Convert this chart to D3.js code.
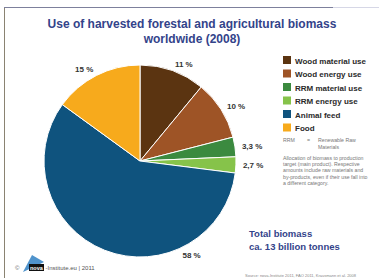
<!DOCTYPE html>
<html>
<head>
<meta charset="utf-8">
<script src="https://d3js.org/d3.v7.min.js"></script>
<style>
  body { margin: 0; background: #fff; }
  svg text { font-family: "Liberation Sans", Arial, sans-serif; }
</style>
</head>
<body>
<svg id="chart" width="379" height="278"></svg>
<script>
// data
var categories = ["Wood material use", "Wood energy use", "RRM material use", "RRM energy use", "Animal feed", "Food"];
var shares = [11, 10, 3.3, 2.7, 58, 15];
var shareLabels = ["11 %", "10 %", "3,3 %", "2,7 %", "58 %", "15 %"];
var colors = ["#5b3411", "#9e5426", "#3b8a3f", "#86c34a", "#0f537e", "#f7aa1c"];
var titleLines = ["Use of harvested forestal and agricultural biomass", "worldwide (2008)"];
var totalLines = ["Total biomass", "ca. 13 billion tonnes"];
var noteLines = ["Allocation of biomass to production", "target (main product). Respective",
  "amounts include raw materials and", "by-products, even if their use fall into", "a different category."];

var svg = d3.select("#chart");
var navy = "#33438a";

// frame
svg.append("line").attr("x1", 4.5).attr("y1", 7).attr("x2", 4.5).attr("y2", 278)
  .attr("stroke", "#8a8372").attr("stroke-width", 1);
svg.append("line").attr("x1", 4).attr("y1", 7.5).attr("x2", 333).attr("y2", 7.5)
  .attr("stroke", "#7d809c").attr("stroke-width", 1);
svg.append("line").attr("x1", 333).attr("y1", 7.5).attr("x2", 379).attr("y2", 7.5)
  .attr("stroke", "#d6d7e6").attr("stroke-width", 1);

// title
svg.selectAll(".title").data(titleLines).enter().append("text")
  .attr("class", "title")
  .attr("x", 192).attr("y", function(d, i) { return 28 + i * 14.5; })
  .attr("text-anchor", "middle")
  .attr("font-size", 12).attr("font-weight", "bold")
  .attr("fill", navy)
  .text(function(d) { return d; });

// pie
var cx = 140, cy = 161, r = 96;
var pie = d3.pie().sort(null).value(function(d) { return d; });
var arcs = pie(shares);
var arc = d3.arc().innerRadius(0).outerRadius(r);

var g = svg.append("g").attr("transform", "translate(" + cx + "," + cy + ")");
g.selectAll("path").data(arcs).enter().append("path")
  .attr("d", arc)
  .attr("fill", function(d, i) { return colors[i]; })
  .attr("stroke", "#fff").attr("stroke-width", 1);

// percent labels
var labelR = 103;
var biggest = d3.maxIndex(shares);
g.selectAll(".pct").data(arcs).enter().append("text")
  .attr("class", "pct")
  .each(function(d, i) {
    var a = (d.startAngle + d.endAngle) / 2;
    if (i === biggest) a = d.startAngle + 0.28 * (d.endAngle - d.startAngle);
    var x = Math.sin(a) * labelR, y = -Math.cos(a) * labelR;
    d3.select(this).attr("x", x).attr("y", y + 3)
      .attr("text-anchor", Math.sin(a) >= 0 ? "start" : "end");
  })
  .attr("font-size", 8).attr("font-weight", "bold")
  .attr("fill", "#333")
  .text(function(d, i) { return shareLabels[i]; });

// legend
var legend = svg.append("g").attr("transform", "translate(283,56)");
var rows = legend.selectAll("g").data(categories).enter().append("g")
  .attr("transform", function(d, i) { return "translate(0," + (i * 13.5) + ")"; });
rows.append("rect").attr("width", 8).attr("height", 8)
  .attr("fill", function(d, i) { return colors[i]; });
rows.append("text").attr("x", 12).attr("y", 7.5)
  .attr("font-size", 8).attr("font-weight", "bold").attr("fill", "#2a2a2a")
  .text(function(d) { return d; });

// RRM note
var small = svg.append("g").attr("fill", "#777").attr("font-size", 5.2);
small.append("text").attr("x", 283).attr("y", 142).text("RRM");
small.append("text").attr("x", 307).attr("y", 142).text("=");
small.append("text").attr("x", 318).attr("y", 142).text("Renewable Raw");
small.append("text").attr("x", 318).attr("y", 149).text("Materials");
small.selectAll(".note").data(noteLines).enter().append("text")
  .attr("class", "note")
  .attr("x", 283).attr("y", function(d, i) { return 160 + i * 6.2; })
  .text(function(d) { return d; });

// total
svg.selectAll(".total").data(totalLines).enter().append("text")
  .attr("class", "total")
  .attr("x", 249).attr("y", function(d, i) { return 237 + i * 13; })
  .attr("font-size", 9.5).attr("font-weight", "bold")
  .attr("fill", navy)
  .text(function(d) { return d; });

// source
svg.append("text").attr("x", 245).attr("y", 276.5)
  .attr("font-size", 4).attr("fill", "#888")
  .text("Source: nova-Institute 2011, FAO 2011, Krausmann et al. 2008");

// footer logo
var foot = svg.append("g");
foot.append("text").attr("x", 15).attr("y", 270).attr("font-size", 6).attr("fill", "#666").text("©");
foot.append("path").attr("d", "M23,272 L32,255 L44,262 L36,266 Z").attr("fill", "#4f93cc");
foot.append("rect").attr("x", 29).attr("y", 264).attr("width", 15).attr("height", 7).attr("fill", "#111");
foot.append("text").attr("x", 30).attr("y", 269.5).attr("font-size", 5.5).attr("font-weight", "bold")
  .attr("fill", "#fff").text("nova");
foot.append("text").attr("x", 45.5).attr("y", 270).attr("font-size", 6).attr("fill", "#555")
  .text("-Institute.eu | 2011");
</script>
</body>
</html>
